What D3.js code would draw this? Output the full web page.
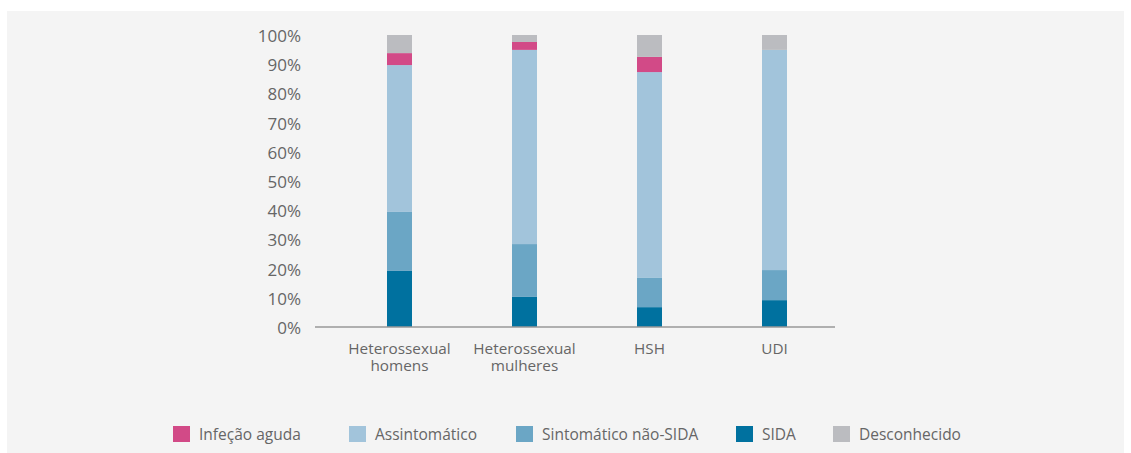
<!DOCTYPE html>
<html>
<head>
<meta charset="utf-8">
<script src="https://cdn.jsdelivr.net/npm/d3@7"></script>
<style>
  body { margin: 0; background: #fff; }
  text { font-family: "Open Sans", sans-serif; fill: #666; }
</style>
</head>
<body>
<svg id="chart"></svg>
<script>
// categories and stacked shares (in %)
const categories = [['Heterossexual', 'homens'], ['Heterossexual', 'mulheres'], ['HSH'], ['UDI']];
const keys = ['SIDA', 'Sintomático não-SIDA', 'Assintomático', 'Infeção aguda', 'Desconhecido'];

const sida = [19.2, 10.3, 6.8, 9.2];
const sintomatico = [20.2, 18.1, 10.0, 10.3];
const assintomatico = [50.3, 66.5, 70.5, 75.4];
const infecao = [4.1, 2.7, 5.2, 0];
const desconhecido = [6.2, 2.4, 7.5, 5.1];

const legendOrder = ['Infeção aguda', 'Assintomático', 'Sintomático não-SIDA', 'SIDA', 'Desconhecido'];
const yTicks = [0, 10, 20, 30, 40, 50, 60, 70, 80, 90, 100];

const colors = {
  'Infeção aguda': '#d24a87',
  'Assintomático': '#a2c4db',
  'Sintomático não-SIDA': '#6ba6c5',
  'SIDA': '#00719f',
  'Desconhecido': '#bbbcc0'
};

const width = 1131;
const height = 453;

const rows = categories.map((c, i) => ({
  cat: c.join(' '),
  'SIDA': sida[i],
  'Sintomático não-SIDA': sintomatico[i],
  'Assintomático': assintomatico[i],
  'Infeção aguda': infecao[i],
  'Desconhecido': desconhecido[i]
}));

const svg = d3.select('#chart')
  .attr('width', width)
  .attr('height', height);

svg.append('rect')
  .attr('x', 7).attr('y', 11)
  .attr('width', 1117).attr('height', 442)
  .attr('fill', '#f4f4f4');

const x = d3.scaleBand()
  .domain(rows.map(d => d.cat))
  .range([337, 837])
  .paddingInner(0.8)
  .paddingOuter(0.4);

const y = d3.scaleLinear()
  .domain([0, 100])
  .range([327, 35]);

const series = d3.stack().keys(keys)(rows);

svg.append('g')
  .selectAll('g')
  .data(series)
  .join('g')
    .attr('fill', s => colors[s.key])
  .selectAll('rect')
  .data(s => s)
  .join('rect')
    .attr('x', d => x(d.data.cat))
    .attr('width', x.bandwidth())
    .attr('y', d => y(d[1]))
    .attr('height', d => y(d[0]) - y(d[1]));

// y axis labels
const yAxis = svg.append('g')
  .attr('transform', 'translate(301,1)')
  .call(d3.axisLeft(y).tickValues(yTicks).tickFormat(d => d + '%').tickSize(0).tickPadding(0));
yAxis.select('.domain').remove();
yAxis.selectAll('text')
  .style('font-size', '17px')
  .attr('fill', '#666');

// baseline
svg.append('line')
  .attr('x1', 315).attr('x2', 835)
  .attr('y1', y(0)).attr('y2', y(0))
  .attr('stroke', '#999')
  .attr('stroke-width', 1.5);

// category labels, one text per line
const labelLines = categories.flatMap((c, i) =>
  c.map((t, j) => ({ t, j, cx: x(rows[i].cat) + x.bandwidth() / 2 })));

svg.append('g')
  .selectAll('text')
  .data(labelLines)
  .join('text')
    .attr('x', d => d.cx)
    .attr('y', d => 354 + d.j * 17)
    .attr('text-anchor', 'middle')
    .style('font-size', '15.3px')
    .text(d => d.t);

// legend
const legendX = [173, 349, 516, 736, 833];
const legend = svg.append('g')
  .selectAll('g')
  .data(legendOrder)
  .join('g')
    .attr('transform', (d, i) => 'translate(' + legendX[i] + ',426)');

legend.append('rect')
  .attr('width', 17)
  .attr('height', 16)
  .attr('fill', d => colors[d]);

legend.append('text')
  .attr('x', 26)
  .attr('y', 9)
  .attr('dy', '0.35em')
  .style('font-size', '15.5px')
  .text(d => d);
</script>
</body>
</html>
